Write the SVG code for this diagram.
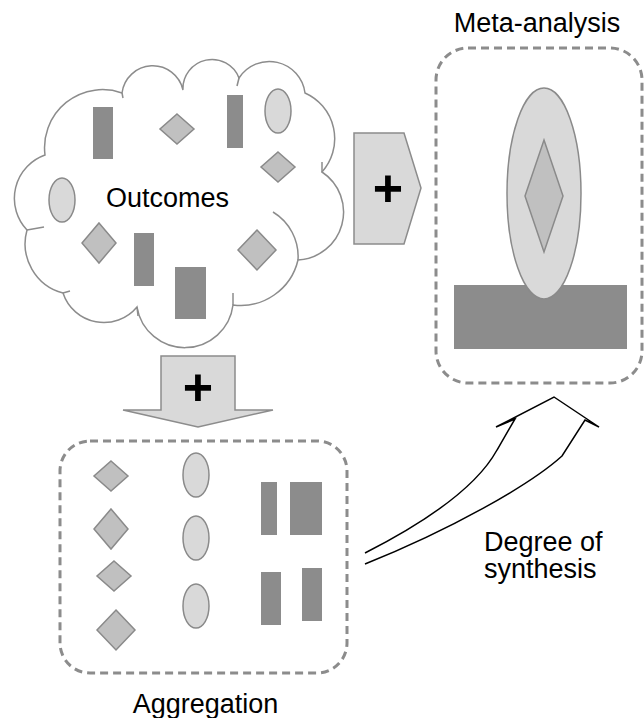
<svg xmlns="http://www.w3.org/2000/svg" width="644" height="718" viewBox="0 0 644 718">
  <style>
    .lbl { font-family: "Liberation Sans", Arial, sans-serif; font-size: 27px; fill: #000; }
    .plus { font-family: "Liberation Sans", Arial, sans-serif; font-size: 52px; font-weight: bold; fill: #000; text-anchor: middle; }
    .bar { fill: #8c8c8c; }
    .dia { fill: #c0c0c0; stroke: #8a8a8a; stroke-width: 1.5; }
    .ell { fill: #d9d9d9; stroke: #8a8a8a; stroke-width: 1.5; }
    .frame { fill: none; stroke: #8c8c8c; stroke-width: 3; stroke-dasharray: 8 5; }
    .cloud { fill: #fff; stroke: #8c8c8c; stroke-width: 1.5; }
    .hook { fill: none; stroke: #8c8c8c; stroke-width: 1.5; }
    .block { fill: #d9d9d9; stroke: #8c8c8c; stroke-width: 1.5; }
    .curve { fill: none; stroke: #000; stroke-width: 1.5; stroke-linejoin: miter; }
  </style>

  <!-- cloud of individual outcomes -->
  <g id="outcomes">
    <path class="cloud" d="M45,155 A58,58 0 0 1 122,93 A31,31 0 0 1 183,90 A29,29 0 0 1 239,78 A36,36 0 0 1 305,93 A50,50 0 0 1 322,172 A48,48 0 0 1 298,260 A59,59 0 0 1 233,305 A48.5,48.5 0 0 1 137,307 A43,43 0 0 1 63,293 A51,51 0 0 1 27,230 A46,46 0 0 1 45,155 Z"/>
    <path class="hook" d="M273,212 A52,52 0 0 1 298,260"/>
    <path class="hook" d="M237,86 L239,78"/>
    <path class="hook" d="M322,162 L322,172"/>
    <path class="hook" d="M233,293 L233,305"/>
    <path class="hook" d="M137,307 L138,316"/>
    <path class="hook" d="M63,293 L70,291"/>
    <path class="hook" d="M27,230 L44,227"/>
    <path class="hook" d="M122,93 L123,98"/>
    <rect class="bar" x="93" y="107" width="20" height="52"/>
    <polygon class="dia" points="177,114 194,129 177,144 160,129"/>
    <rect class="bar" x="227" y="95" width="16" height="53"/>
    <ellipse class="ell" cx="278" cy="111" rx="13" ry="22"/>
    <polygon class="dia" points="278,152 295,167 278,182 261,167"/>
    <ellipse class="ell" cx="62" cy="200" rx="13" ry="22"/>
    <polygon class="dia" points="99,223 116,243 99,263 82,243"/>
    <rect class="bar" x="134" y="233" width="20" height="53"/>
    <rect class="bar" x="175" y="267" width="31" height="52"/>
    <polygon class="dia" points="257,230 276,250 257,270 238,250"/>
    <text class="lbl" x="167.5" y="207" text-anchor="middle">Outcomes</text>
  </g>

  <!-- pooled result -->
  <g id="meta-analysis">
    <rect class="frame" x="436" y="48" width="206" height="335" rx="32" ry="32"/>
    <rect class="bar" x="454" y="285" width="173" height="64"/>
    <ellipse class="ell" cx="544" cy="193.5" rx="37" ry="105.5"/>
    <polygon class="dia" points="544,140 563,196 544,252 525,196"/>
    <text class="lbl" x="537" y="32" text-anchor="middle">Meta-analysis</text>
  </g>

  <!-- outcomes grouped by type -->
  <g id="aggregation">
    <rect class="frame" x="60" y="441" width="287" height="232" rx="30" ry="30"/>
    <polygon class="dia" points="111,461 128,476 111,491 94,476"/>
    <polygon class="dia" points="111,509 128,529 111,549 94,529"/>
    <polygon class="dia" points="114,561 131,576 114,591 97,576"/>
    <polygon class="dia" points="116,610 135,630 116,650 97,630"/>
    <ellipse class="ell" cx="196" cy="475" rx="13" ry="22"/>
    <ellipse class="ell" cx="196" cy="538" rx="13" ry="22"/>
    <ellipse class="ell" cx="196" cy="606" rx="13" ry="22"/>
    <rect class="bar" x="261" y="482" width="16" height="53"/>
    <rect class="bar" x="290" y="482" width="32" height="53"/>
    <rect class="bar" x="261" y="572" width="20" height="53"/>
    <rect class="bar" x="302" y="568" width="20" height="53"/>
    <text class="lbl" x="205.5" y="713" text-anchor="middle">Aggregation</text>
  </g>

  <!-- arrows between stages -->
  <g id="connectors">
    <g id="to-meta">
      <polygon class="block" points="354,133 404,133 421,188 404,244 354,244"/>
      <text class="plus" x="388" y="206">+</text>
    </g>
    <g id="to-aggregation">
      <polygon class="block" points="161,356 235,356 235,410 273,410 198,427 123,410 161,410"/>
      <text class="plus" x="198" y="405">+</text>
    </g>
    <g id="synthesis">
      <path class="curve" d="M365,553 C420,525 475,490 497,450 L515,419 L496,427 L554,397 L599,427 L585,420 L562,456 C530,485 450,530 365,564"/>
      <text class="lbl" x="484" y="551">Degree of</text>
      <text class="lbl" x="484" y="578">synthesis</text>
    </g>
  </g>
</svg>
